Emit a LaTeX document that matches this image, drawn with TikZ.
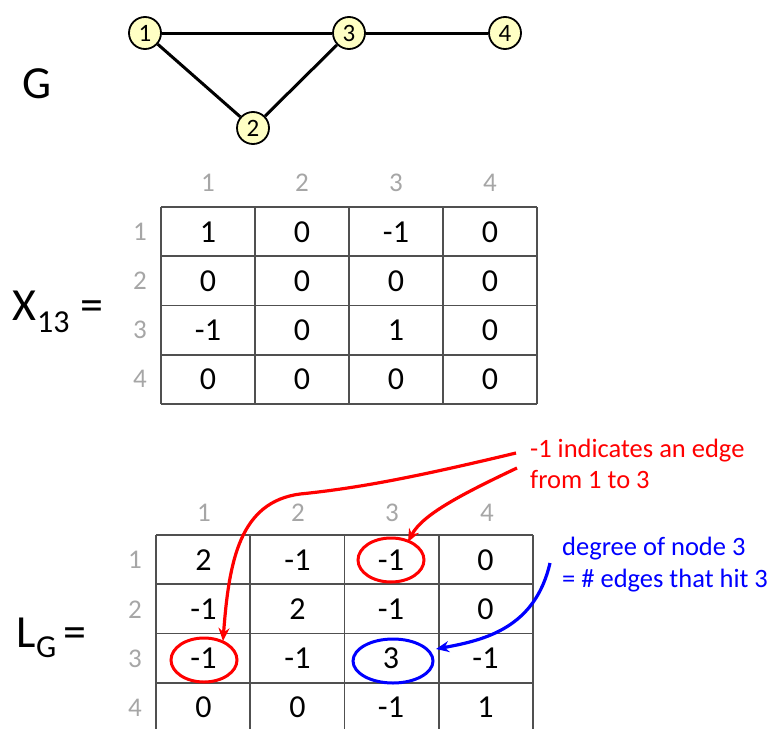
\documentclass[tikz,border=0pt]{standalone}
\usepackage{fontspec}
\setmainfont{Carlito}
\usetikzlibrary{arrows.meta,shapes.geometric}
\definecolor{nodefill}{HTML}{FFFFC4}
\definecolor{hdrgray}{HTML}{A6A6A6}
\definecolor{gridgray}{HTML}{505050}
\begin{document}
\begin{tikzpicture}[x=1pt,y=-1pt,
  gnode/.style={circle,draw=black,line width=1.8pt,fill=nodefill,minimum size=32pt,inner sep=0pt,font=\fontsize{25}{25}\selectfont},
  gedge/.style={line width=3pt},
  cell/.style={font=\fontsize{32}{32}\selectfont,inner sep=0pt},
  hdr/.style={font=\fontsize{27}{27}\selectfont,text=hdrgray,inner sep=0pt},
  gridline/.style={draw=gridgray,line width=1.5pt},
  biglab/.style={font=\fontsize{46}{46}\selectfont,inner sep=0pt,anchor=base west},
  sublab/.style={font=\fontsize{32}{32}\selectfont,inner sep=0pt,anchor=base west},
  note/.style={font=\fontsize{26.5}{26.5}\selectfont,inner sep=0pt,anchor=base west},
  ring/.style={ellipse,draw,line width=3pt,inner sep=0pt},
  pointer/.style={line width=3.2pt,-{Stealth[length=13pt,width=11pt]}}
]
\useasboundingbox (0,0) rectangle (773,728);

% ---------- graph G ----------
\node[font=\fontsize{46}{46}\selectfont,inner sep=0pt] (glab) at (37,84) {G};
\node[gnode] (n1) at (145,33) {1};
\node[gnode] (n3) at (349,33) {3};
\node[gnode] (n4) at (505,33) {4};
\node[gnode] (n2) at (253,128) {2};
\draw[gedge] (n1) -- (n3);
\draw[gedge] (n3) -- (n4);
\draw[gedge] (n1) -- (n2);
\draw[gedge] (n2) -- (n3);

% ---------- X_13 ----------
\node[biglab] (xlab) at (12,320) {X};
\node[sublab] (xsub) at (37,332) {13};
\node[biglab] (xeq) at (80,320) {=};

\foreach \x in {161,255,349,443,537}
  \draw[gridline] (\x,207) -- (\x,404);
\foreach \y in {207,256,305.5,355,404}
  \draw[gridline] (161,\y) -- (537,\y);

\foreach \c/\x in {1/208,2/302,3/396,4/490}
  \node[hdr] (xc\c) at (\x,183) {\c};
\foreach \r/\y in {1/232,2/281,3/330,4/379}
  \node[hdr] (xr\r) at (140,\y) {\r};

\foreach \r/\y/\va/\vb/\vc/\vd in {1/232/1/0/-1/0, 2/281/0/0/0/0, 3/330/-1/0/1/0, 4/379/0/0/0/0}{
  \node[cell] (x\r1) at (208,\y) {\va};
  \node[cell] (x\r2) at (302,\y) {\vb};
  \node[cell] (x\r3) at (396,\y) {\vc};
  \node[cell] (x\r4) at (490,\y) {\vd};
}

% ---------- L_G ----------
\node[biglab] (llab) at (16,647) {L};
\node[sublab] (lsub) at (36,657) {G};
\node[biglab] (leq) at (63,647) {=};

\foreach \x in {156,250,344.5,439,533}
  \draw[gridline] (\x,535) -- (\x,734);
\foreach \y in {535,584,633.5,683}
  \draw[gridline] (156,\y) -- (533,\y);

\foreach \c/\x in {1/204,2/298,3/392,4/487}
  \node[hdr] (lc\c) at (\x,513) {\c};
\foreach \r/\y in {1/560,2/609.5,3/658.5,4/707.5}
  \node[hdr] (lr\r) at (135,\y) {\r};

\foreach \r/\y/\va/\vb/\vc/\vd in {1/560/2/-1/-1/0, 2/609.5/-1/2/-1/0, 3/658.5/-1/-1/3/-1, 4/707.5/0/0/-1/1}{
  \node[cell] (l\r1) at (203.5,\y) {\va};
  \node[cell] (l\r2) at (297.5,\y) {\vb};
  \node[cell] (l\r3) at (391,\y) {\vc};
  \node[cell] (l\r4) at (485.5,\y) {\vd};
}

% ---------- rings ----------
\node[ring,red,minimum width=66pt,minimum height=44pt] (ra) at (391,560) {};
\node[ring,red,minimum width=66pt,minimum height=44pt] (rb) at (204,660) {};
\node[ring,blue,minimum width=80pt,minimum height=44pt] (bc) at (393,661) {};

% ---------- notes ----------
\node[note,text=red] (red1) at (530,457) {-1 indicates an edge};
\node[note,text=red] (red2) at (530,488) {from 1 to 3};
\node[note,text=blue] (blue1) at (562,555) {degree of node 3};
\node[note,text=blue] (blue2) at (562,587) {= \# edges that hit 3};

% ---------- pointers ----------
\coordinate (sa) at (516,453);
\coordinate (sb) at (517,468);
\coordinate (sc) at (550,563);
\coordinate (ta) at (223,641);
\coordinate (tb) at (408,542);
\coordinate (tc) at (436,649);
\draw[pointer,red] (sa) .. controls (420,476) and (360,488) .. (300,494)
  .. controls (240,502) and (229,560) .. (ta);
\draw[pointer,red] (sb) .. controls (460,495) and (422,515) .. (tb);
\draw[pointer,blue] (sc) .. controls (535,628) and (485,640) .. (tc);
\end{tikzpicture}
\end{document}
